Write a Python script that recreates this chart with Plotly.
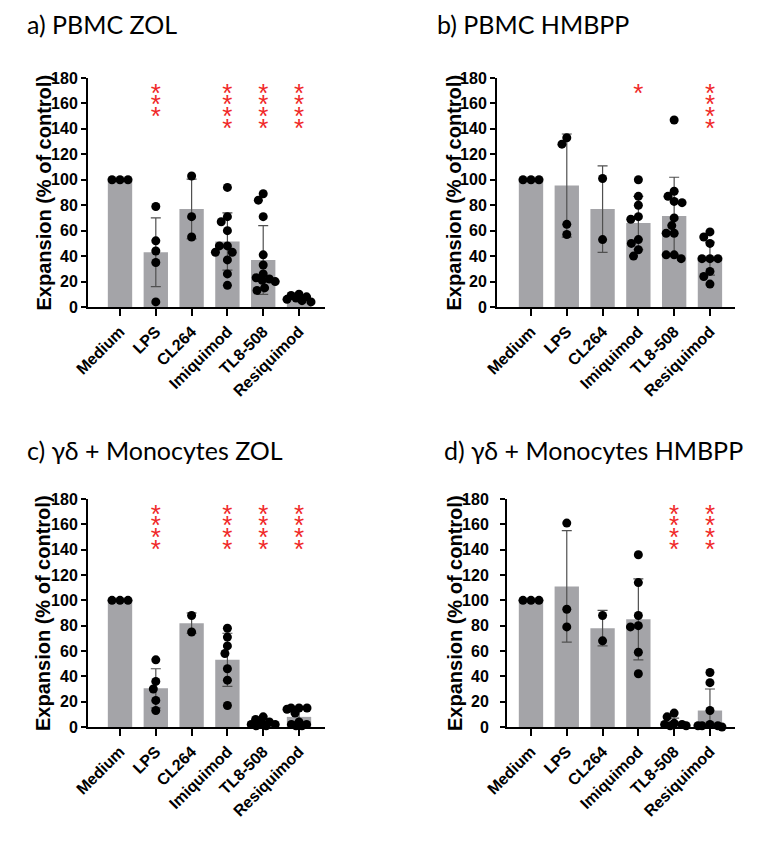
import math
import plotly.graph_objects as go

# ---------------- data ----------------
categories = ["Medium", "LPS", "CL264", "Imiquimod", "TL8-508", "Resiquimod"]
y_ticks = [0, 20, 40, 60, 80, 100, 120, 140, 160, 180]

titles = ["a) PBMC ZOL", "b) PBMC HMBPP", "c) γδ + Monocytes ZOL", "d) γδ + Monocytes HMBPP"]

# panel a: PBMC ZOL
a_mean = [100, 43, 77, 51.5, 37, 7]
a_sd = [0, 27, 23.5, 22.5, 27, 2]
a_points = [
    [100, 100, 100],
    [79, 52, 44, 35, 4],
    [103, 71, 55],
    [94, 71, 67, 60, 48, 48, 43, 43, 37, 26, 17],
    [89, 84, 71, 41, 33, 26, 23, 22, 21, 20, 15, 13],
    [10, 9, 8, 7, 6, 5, 4],
]
a_stars = [0, 3, 0, 4, 4, 4]

# panel b: PBMC HMBPP
b_mean = [100, 95.5, 77, 66, 71.5, 38]
b_sd = [0, 40.5, 34, 21, 30.5, 13]
b_points = [
    [100, 100, 100],
    [133, 128, 65, 57],
    [101, 53],
    [100, 87, 80, 71, 69, 53, 50, 45, 40],
    [147, 91, 87, 83, 82, 70, 64, 58, 58, 41, 41, 38],
    [59, 55, 50, 38, 38, 38, 28, 24, 18],
]
b_stars = [0, 0, 0, 1, 0, 4]

# panel c: gd + Monocytes ZOL
c_mean = [100, 30.5, 82, 53, 4, 8]
c_sd = [0, 15.5, 8, 21, 2, 6]
c_points = [
    [100, 100, 100],
    [53, 36, 30, 21, 13],
    [88, 75],
    [78, 71, 64, 58, 46, 37, 17],
    [8, 6, 4, 3, 2, 2, 1, 1],
    [15, 15, 15, 14, 11, 4, 2, 2, 1, 1],
]
c_stars = [0, 4, 0, 4, 4, 4]

# panel d: gd + Monocytes HMBPP
d_mean = [100, 111, 78, 85, 4, 13]
d_sd = [0, 44, 14, 32, 3, 17]
d_points = [
    [100, 100, 100],
    [161, 93, 79],
    [88, 68],
    [136, 114, 88, 80, 79, 59, 42],
    [11, 8, 3, 2, 2, 1, 1],
    [43, 35, 13, 2, 1, 1, 1, 0],
]
d_stars = [0, 0, 0, 0, 4, 4]

# ---------------- layout geometry ----------------
W, H = 764, 842
OFF = 8  # page body margin of the rendered html
panels = [
    dict(mean=a_mean, sd=a_sd, pts=a_points, stars=a_stars, x0=88, x1=325, yt=78, yb=307, xr=(-0.894, 5.726), title_xy=(25, 24), ytitle_x=43, tls=0),
    dict(mean=b_mean, sd=b_sd, pts=b_points, stars=b_stars, x0=497, x1=735, yt=78, yb=307, xr=(-0.95, 5.70), title_xy=(435, 24), ytitle_x=453, tls=0),
    dict(mean=c_mean, sd=c_sd, pts=c_points, stars=c_stars, x0=88, x1=325, yt=499, yb=727, xr=(-0.894, 5.726), title_xy=(25, 450), ytitle_x=43, tls=0),
    dict(mean=d_mean, sd=d_sd, pts=d_points, stars=d_stars, x0=507, x1=735, yt=499, yb=727, xr=(-0.67, 5.70), title_xy=(442, 450), ytitle_x=455, tls=8),
]

BAR_COLOR = "#a4a4a8"
STAR_COLOR = "#f02828"
DOT = 9.0
COLLIDE = 8.0
MAX_OFF = 12.0
STAR_TOP = 166.5   # anchor of the top asterisk (glyph sits high in its box)
STAR_STEP = 9.2


def fx(px):
    return (px - OFF) / W


def fy(py):
    return 1 - (py - OFF) / H


def swarm(values, py, px):
    """Deterministic beeswarm offsets (in category units)."""
    placed = []
    out = []
    for v in values:
        y = v * py
        cands = [0.0]
        for (qx, qy) in placed:
            dy = abs(y - qy)
            if dy < COLLIDE:
                w = math.sqrt(COLLIDE * COLLIDE - dy * dy)
                cands += [qx - w, qx + w]
        valid = [c for c in cands if abs(c) <= MAX_OFF and
                 all(math.hypot(c - qx, y - qy) >= COLLIDE - 1e-6 for (qx, qy) in placed)]
        if valid:
            best = min(valid, key=lambda c: (round(abs(c), 6), c))
        else:
            grid = [MAX_OFF * (t / 12.0) for t in range(-12, 13)]
            best = max(grid, key=lambda c: min(math.hypot(c - qx, y - qy) for (qx, qy) in placed))
        placed.append((best, y))
        out.append(best / px)
    return out


fig = go.Figure()
layout = dict(
    width=W, height=H, margin=dict(l=0, r=0, t=0, b=0, pad=0),
    paper_bgcolor="white", plot_bgcolor="white", showlegend=False,
    font=dict(family="Liberation Sans, Arial, sans-serif", color="black"),
)
annotations = []

for i, p in enumerate(panels):
    n = "" if i == 0 else str(i + 1)
    xa, ya = "x" + n, "y" + n
    px_cat = (p["x1"] - p["x0"]) / (p["xr"][1] - p["xr"][0])
    py_unit = (p["yb"] - p["yt"]) / 180.0
    xs = list(range(len(categories)))

    fig.add_trace(go.Bar(
        x=xs, y=p["mean"], width=0.68, marker=dict(color=BAR_COLOR, line=dict(width=0)),
        error_y=dict(type="data", array=p["sd"], visible=True, color="#505050", thickness=1.2, width=5),
        xaxis=xa, yaxis=ya, hoverinfo="skip",
    ))
    px_list, py_list = [], []
    for k, vals in enumerate(p["pts"]):
        offs = swarm(vals, py_unit, px_cat)
        px_list += [k + o for o in offs]
        py_list += vals
    fig.add_trace(go.Scatter(
        x=px_list, y=py_list, mode="markers",
        marker=dict(color="black", size=DOT, line=dict(width=0)),
        cliponaxis=False, xaxis=xa, yaxis=ya,
    ))
    sx, sy = [], []
    for k, cnt in enumerate(p["stars"]):
        for j in range(cnt):
            sx.append(k)
            sy.append(STAR_TOP - j * STAR_STEP)
    if sx:
        fig.add_trace(go.Scatter(
            x=sx, y=sy, mode="text", text=["*"] * len(sx), textposition="middle center",
            textfont=dict(color=STAR_COLOR, size=26, family="Liberation Sans"),
            cliponaxis=False, xaxis=xa, yaxis=ya,
        ))

    layout["xaxis" + n] = dict(
        domain=[fx(p["x0"]), fx(p["x1"])], range=list(p["xr"]), anchor=ya, automargin=False,
        tickvals=xs, ticktext=categories, tickangle=-45,
        tickfont=dict(size=16, family="Liberation Sans", weight="bold"),
        showline=True, linecolor="black", linewidth=2, ticks="outside", ticklen=7,
        tickwidth=2, tickcolor="black", showgrid=False, zeroline=False, fixedrange=True,
    )
    layout["yaxis" + n] = dict(
        domain=[fy(p["yb"]), fy(p["yt"])], range=[0, 180], anchor=xa, automargin=False,
        tickvals=y_ticks, tickfont=dict(size=16, family="Liberation Sans", weight="bold"),
        showline=True, linecolor="black", linewidth=2, ticks="outside", ticklen=5,
        tickwidth=2, tickcolor="black", showgrid=False, zeroline=False, fixedrange=True,
        ticklabelstandoff=p["tls"],
    )
    annotations.append(dict(
        x=fx(p["ytitle_x"]), y=fy((p["yt"] + p["yb"]) / 2), xref="paper", yref="paper",
        text="Expansion (% of control)", textangle=-90, showarrow=False,
        xanchor="center", yanchor="middle",
        font=dict(size=20, family="Liberation Sans", weight="bold", color="black"),
    ))
    tx, ty = p["title_xy"]
    annotations.append(dict(
        x=fx(tx), y=fy(ty), xref="paper", yref="paper", text=titles[i],
        showarrow=False, xanchor="left", yanchor="middle",
        font=dict(size=25, family="Lato, Carlito, sans-serif", color="black"),
    ))

layout["annotations"] = annotations
fig.update_layout(**layout)
fig.write_html("out.html")
